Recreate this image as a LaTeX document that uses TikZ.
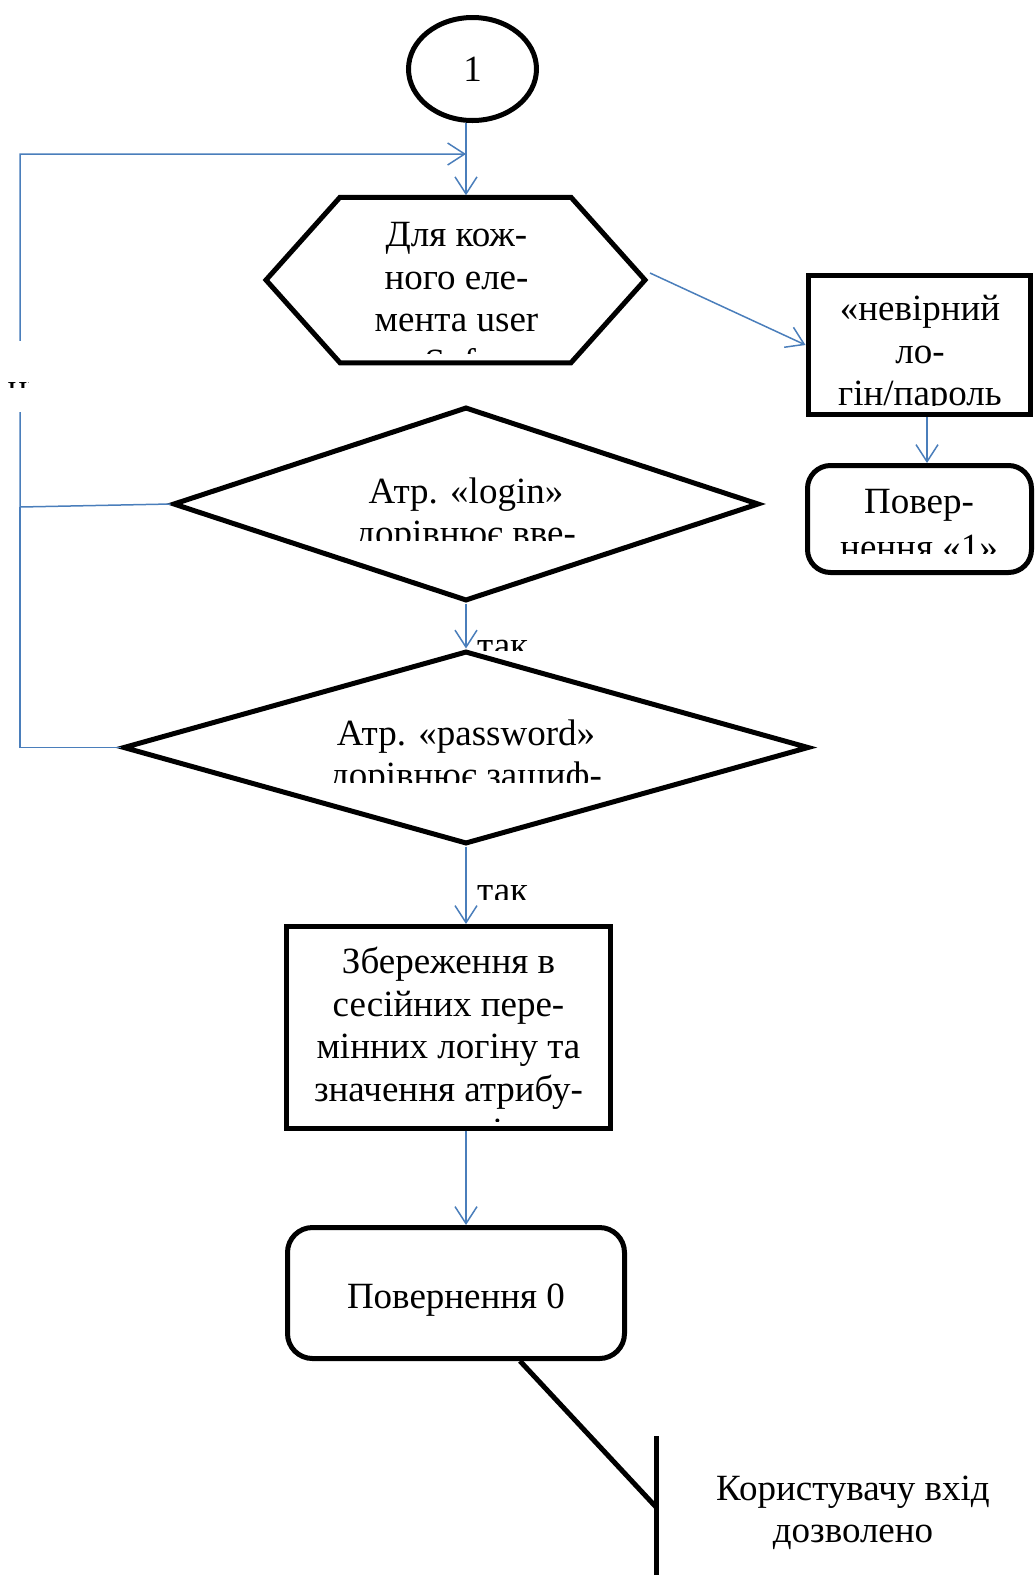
\documentclass[tikz,border=0pt]{standalone}
\usepackage{fontspec}
\setmainfont{Liberation Serif}
\usetikzlibrary{shapes.geometric,arrows.meta}
\definecolor{lnblue}{HTML}{4A7EBB}
\newcommand{\bigfnt}{\fontsize{37}{42.5}\selectfont}

\begin{document}
\begin{tikzpicture}[x=1pt, y=-1pt,
  bk/.style={line width=5pt, black},
  ln/.style={line width=1.5pt, lnblue},
  arr/.style={ln, -{Straight Barb[length=17pt,width=22pt]}},
  blk/.style={bk, draw, fill=white, inner sep=0},
  txt/.style={font=\bigfnt, align=center, inner sep=0}]
\useasboundingbox (0,0) rectangle (1034,1575);

%%% blocks %%%
\node[blk, ellipse, minimum width=128pt, minimum height=103pt, font=\bigfnt] (circ) at (472.5,69) {1};
\node[minimum width=379pt, minimum height=165.5pt, inner sep=0, outer sep=0] (hex) at (455.5,280) {};
\draw[bk, fill=white] ([xshift=74pt]hex.north west) -- ([xshift=-74pt]hex.north east) -- (hex.east)
  -- ([xshift=-74pt]hex.south east) -- ([xshift=74pt]hex.south west) -- (hex.west) -- cycle;
\node[blk, minimum width=222pt, minimum height=139pt] (bad) at (919,345) {};
\node[blk, rounded corners=23pt, minimum width=224pt, minimum height=107pt] (ret1) at (919.5,519) {};
\node[blk, diamond, minimum width=586pt, minimum height=194pt] (d1) at (466,504) {};
\node[blk, diamond, minimum width=686pt, minimum height=193pt] (d2) at (466,747.5) {};
\node[blk, minimum width=324.5pt, minimum height=201.5pt] (save) at (448.25,1027.25) {};
\node[blk, rounded corners=25pt, minimum width=337pt, minimum height=131pt, font=\bigfnt,
  text height=30pt, text depth=0pt] (ret0) at (456,1293) {Повернення 0};

%%% connectors %%%
\coordinate (lp0) at (20,154);
\coordinate (lp1) at (20,507);
\draw[arr, shorten >=2pt] (circ.south -| d1.north) -- (hex.north -| d1.north);
\draw[arr] (d1.west) -- (lp1) -- (lp0) -- (lp0 -| d1.north);
\draw[ln] (d2.west) -- (d2.west -| lp0) -- (lp1);
\draw[arr] ([xshift=5pt,yshift=7pt]hex.east) -- (bad.west);
\draw[arr] ([xshift=8pt]bad.south) -- ([xshift=8pt]bad.south |- ret1.north);
\draw[arr] (d1.south) -- (d2.north);
\draw[arr] (d2.south) -- (d2.south |- save.north);
\draw[arr] (save.south -| d1.south) -- (ret0.north -| d1.south);

%% gap in the loop with its label
\node[fill=white, minimum width=30pt, minimum height=71pt, inner sep=0] (noGap) at (20,376.5) {};
\begin{scope}
  \clip (0,382) rectangle (28,387);
  \node[txt, anchor=base west] (noT) at (7.5,399.6) {ні};
\end{scope}

%%% texts, cut off as in the boxes %%%
\begin{scope}
  \clip (300,200) rectangle (620,353);
  \node[txt] (hexT) at (456.5,298.5) {Для кож-\\ного еле-\\мента user\\Sof-};
\end{scope}
\begin{scope}
  \clip (812,279) rectangle (1026,405);
  \node[txt] (badT) at (920,354.75) {«невірний\\ло-\\гін/пароль};
\end{scope}
\begin{scope}
  \clip (812,470) rectangle (1027,553);
  \node[txt, font=\fontsize{37}{45.5}\selectfont] (ret1T) at (919,524.5) {Повер-\\нення «1»};
\end{scope}
\begin{scope}
  \clip (200,410) rectangle (740,540);
  \node[txt] (d1T) at (466,515.75) {Атр. «login»\\дорівнює вве-};
\end{scope}
\begin{scope}
  \clip (150,655) rectangle (790,782);
  \node[txt] (d2T) at (466,757.75) {Атр. «password»\\дорівнює зашиф-};
\end{scope}
\begin{scope}
  \clip (290,930) rectangle (606,1121);
  \node[txt] (saveT) at (448.5,1049.5) {Збереження в\\сесійних пере-\\мінних логіну та\\значення атрибу-\\ту ролі};
\end{scope}
\begin{scope}
  \clip (470,600) rectangle (560,650);
  \node[txt, anchor=base west] (yes1) at (477,657) {так};
\end{scope}
\begin{scope}
  \clip (470,850) rectangle (560,899);
  \node[txt, anchor=base west] (yes2) at (477,902) {так};
\end{scope}

%%% comment %%%
\node[txt] (note) at (853,1513) {Користувачу вхід\\дозволено};
\coordinate (brk) at (656,1507);
\coordinate (brkTop) at (656,1436);
\coordinate (brkBot) at (656,1575);
\draw[bk] (brkTop) -- (brkBot);
\draw[bk] ([xshift=-107pt]ret0.south east) -- (brk);

\end{tikzpicture}
\end{document}
